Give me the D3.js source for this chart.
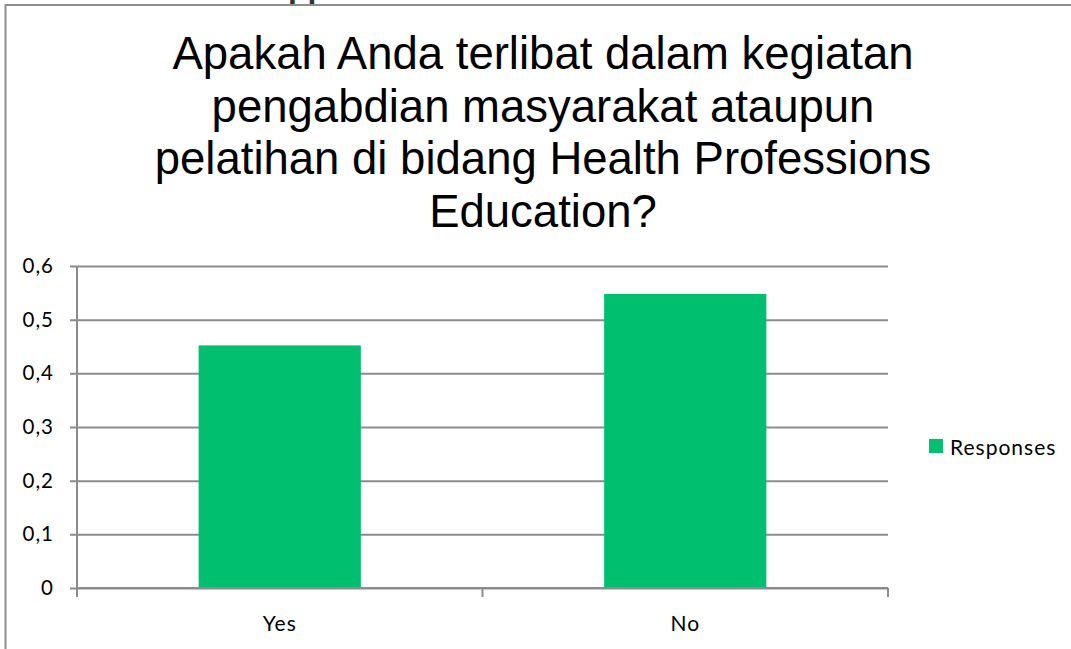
<!DOCTYPE html>
<html>
<head>
<meta charset="utf-8">
<script src="https://cdn.jsdelivr.net/npm/d3@7"></script>
<style>
  html, body { margin: 0; padding: 0; background: #fff; }
  svg { display: block; }
</style>
</head>
<body>
<svg id="chart" width="1071" height="649"></svg>
<script>
const categories = ["Yes", "No"];
const values = [0.452, 0.548];
const yTicks = [0, 0.1, 0.2, 0.3, 0.4, 0.5, 0.6];
const yTickLabels = ["0", "0,1", "0,2", "0,3", "0,4", "0,5", "0,6"];
const titleLines = [
  "Apakah Anda terlibat dalam kegiatan",
  "pengabdian masyarakat ataupun",
  "pelatihan di bidang Health Professions",
  "Education?"
];
const seriesName = "Responses";

const svg = d3.select("#chart");
const W = 1071, H = 649;
const gridColor = "#8c8c8c";
const barColor = "#00bf6f";
const labelFont = "Lato, 'Open Sans', sans-serif";

// cut-off text fragment at the very top
svg.append("text")
  .attr("x", 288).attr("y", -3.5)
  .attr("font-family", "Liberation Sans, Arial, sans-serif")
  .attr("font-weight", "bold")
  .attr("font-size", 32)
  .attr("fill", "#333")
  .text("pp");

// outer frame (top and left edges visible)
svg.append("path")
  .attr("d", `M5.5,${H} L5.5,5 L${W},5`)
  .attr("fill", "none")
  .attr("stroke", "#8f8f8f")
  .attr("stroke-width", 2);

// title
const title = svg.append("text")
  .attr("text-anchor", "middle")
  .attr("font-family", "Liberation Sans, Arial, sans-serif")
  .attr("font-size", 45.5)
  .attr("fill", "#000");
titleLines.forEach((t, i) => {
  title.append("tspan").attr("x", 543).attr("y", 69 + i * 52.5).text(t);
});

// scales
const x = d3.scaleBand().domain(categories).range([77, 888]).paddingInner(0.6).paddingOuter(0.3);
const y = d3.scaleLinear().domain([0, 0.6]).range([588, 266]);

// gridlines + y axis
const yAxis = d3.axisLeft(y).tickValues(yTicks)
  .tickSize(-(888 - 77)).tickSizeOuter(0)
  .tickFormat((d, i) => yTickLabels[i]);
const gy = svg.append("g").attr("transform", "translate(77,0)").call(yAxis);
gy.select(".domain").remove();
gy.selectAll(".tick line").attr("stroke", gridColor).attr("stroke-width", 2).attr("x1", -7);
gy.selectAll(".tick text")
  .attr("x", -23)
  .attr("font-family", labelFont)
  .attr("font-size", 20.5)
  .attr("letter-spacing", 1)
  .attr("fill", "#000");

// bars
svg.append("g").selectAll("rect")
  .data(categories.map((c, i) => ({c, v: values[i]})))
  .join("rect")
  .attr("x", d => x(d.c))
  .attr("y", d => y(d.v))
  .attr("width", x.bandwidth())
  .attr("height", d => y(0) - y(d.v))
  .attr("fill", barColor);

// y axis line
svg.append("line")
  .attr("x1", 77).attr("x2", 77).attr("y1", y(0.6)).attr("y2", 597)
  .attr("stroke", gridColor).attr("stroke-width", 2);

// x axis line
svg.append("line")
  .attr("x1", 77).attr("x2", 888).attr("y1", y(0)).attr("y2", y(0))
  .attr("stroke", gridColor).attr("stroke-width", 2);

// x ticks between categories
const step = x.step();
const bounds = [77, 77 + step, 888];
svg.append("g").selectAll("line").data(bounds).join("line")
  .attr("x1", d => d).attr("x2", d => d)
  .attr("y1", y(0)).attr("y2", 597)
  .attr("stroke", gridColor).attr("stroke-width", 2);

// x labels
svg.append("g").selectAll("text").data(categories).join("text")
  .attr("x", d => x(d) + x.bandwidth() / 2)
  .attr("y", 631)
  .attr("text-anchor", "middle")
  .attr("font-family", labelFont)
  .attr("font-size", 21)
  .attr("letter-spacing", 1)
  .attr("fill", "#000")
  .text(d => d);

// legend
svg.append("rect")
  .attr("x", 929).attr("y", 439).attr("width", 14).attr("height", 14)
  .attr("fill", barColor);
svg.append("text")
  .attr("x", 950).attr("y", 455)
  .attr("font-family", labelFont)
  .attr("font-size", 21)
  .attr("letter-spacing", 1)
  .attr("fill", "#000")
  .text(seriesName);
</script>
</body>
</html>
